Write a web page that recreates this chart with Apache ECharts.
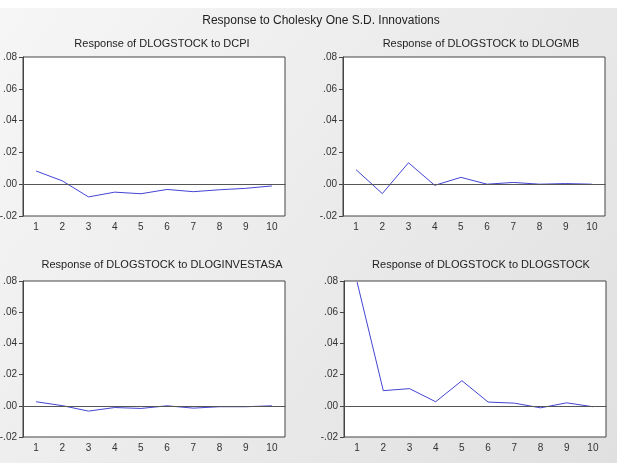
<!DOCTYPE html>
<html lang="en">
<head>
  <meta charset="UTF-8">
  <title>Response to Cholesky One S.D. Innovations</title>
  <script src="https://cdn.jsdelivr.net/npm/echarts@6/dist/echarts.min.js"></script>
  <style>
    html, body { margin: 0; padding: 0; background: #fff; }
  </style>
</head>
<body>
<div id="main" style="width: 620px;height: 463px;"></div>
<script>
  // impulse responses of DLOGSTOCK, lags 1..10
  var lags = ['1', '2', '3', '4', '5', '6', '7', '8', '9', '10'];
  var dcpi = [0.0083, 0.0021, -0.0080, -0.0050, -0.0060, -0.0033, -0.0047, -0.0035, -0.0026, -0.0011];
  var dlogmb = [0.0091, -0.0059, 0.0135, -0.0007, 0.0043, 0.0000, 0.0011, 0.0000, 0.0004, 0.0000];
  var dloginvestasa = [0.0026, 0.0001, -0.0034, -0.0011, -0.0017, 0.0000, -0.0015, -0.0006, -0.0006, 0.0000];
  var dlogstock = [0.0793, 0.0097, 0.0110, 0.0026, 0.0161, 0.0024, 0.0017, -0.0013, 0.0019, -0.0006];

  var mainTitle = 'Response to Cholesky One S.D. Innovations';
  var panelTitles = [
    'Response of DLOGSTOCK to DCPI',
    'Response of DLOGSTOCK to DLOGMB',
    'Response of DLOGSTOCK to DLOGINVESTASA',
    'Response of DLOGSTOCK to DLOGSTOCK'
  ];
  var panelData = [dcpi, dlogmb, dloginvestasa, dlogstock];

  var font = 'Liberation Sans, Arial, sans-serif';
  var grids = [
    {left: 23, top: 57, width: 262, height: 159},
    {left: 343, top: 57, width: 262, height: 159},
    {left: 23, top: 281, width: 262, height: 156},
    {left: 344, top: 281, width: 262, height: 156}
  ];
  var titlePos = [[157, 33], [476, 33], [157, 254], [476, 254]];

  function fmt(v) {
    if (Math.abs(v) < 1e-9) v = 0;
    return v.toFixed(2).replace('0.', '.');
  }

  var myChart = echarts.init(document.getElementById('main'));

  var titles = [{
    text: mainTitle, left: 316, top: 10, textAlign: 'center',
    textStyle: {fontSize: 12, fontWeight: 'normal', color: '#222', fontFamily: font}
  }];
  panelTitles.forEach(function (t, i) {
    titles.push({
      text: t, left: titlePos[i][0], top: titlePos[i][1], textAlign: 'center',
      textStyle: {fontSize: 11, fontWeight: 'normal', color: '#222', fontFamily: font}
    });
  });

  var xAxes = [], yAxes = [], series = [];
  grids.forEach(function (g, i) {
    g.show = true;
    g.backgroundColor = '#fff';
    g.borderColor = '#444';
    g.borderWidth = 1;
    g.containLabel = false;
    g.outerBoundsMode = 'none';
    xAxes.push({
      type: 'category', gridIndex: i, data: lags, boundaryGap: true,
      axisLine: {lineStyle: {color: '#444', width: 1}},
      axisTick: {length: 4, lineStyle: {color: '#444'}},
      axisLabel: {fontSize: 10, color: '#333', margin: 6, fontFamily: font}
    });
    yAxes.push({
      type: 'value', gridIndex: i, min: -0.02, max: 0.08, interval: 0.02,
      axisLine: {show: true, lineStyle: {color: '#444', width: 1}},
      axisTick: {show: true, length: 4, lineStyle: {color: '#444'}},
      splitLine: {show: false},
      axisLabel: {fontSize: 10, color: '#333', margin: 6, fontFamily: font, formatter: fmt}
    });
    series.push({
      type: 'line', xAxisIndex: i, yAxisIndex: i, data: panelData[i],
      symbol: 'none', silent: true,
      lineStyle: {color: '#4444d4', width: 1},
      markLine: {
        silent: true, symbol: 'none', label: {show: false},
        lineStyle: {color: '#555', type: 'solid', width: 1},
        data: [{yAxis: 0}]
      }
    });
  });

  myChart.setOption({
    animation: false,
    backgroundColor: '#fff',
    graphic: [{
      type: 'rect', z: -10, silent: true,
      shape: {x: 0, y: 8, width: 617, height: 455},
      style: {
        fill: new echarts.graphic.LinearGradient(0, 0, 1, 1, [
          {offset: 0, color: '#f6f6f6'},
          {offset: 1, color: '#e0e0e0'}
        ])
      }
    }],
    title: titles,
    grid: grids,
    xAxis: xAxes,
    yAxis: yAxes,
    series: series
  });
</script>
</body>
</html>
